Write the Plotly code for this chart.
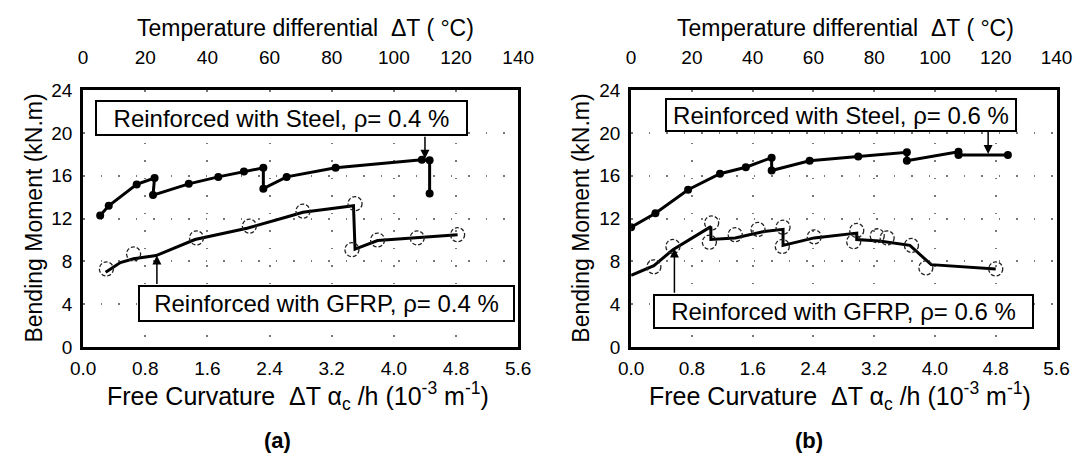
import plotly.graph_objects as go

# ---------------- data ----------------
# Panel (a): rho = 0.4 %
a_steel_x = [0.22, 0.33, 0.69, 0.92, 0.90, 1.36, 1.74, 2.07, 2.32, 2.32, 2.62, 3.25, 4.36, 4.46, 4.46]
a_steel_m = [12.3, 13.2, 15.2, 15.8, 14.2, 15.25, 15.9, 16.4, 16.75, 14.8, 15.9, 16.75, 17.5, 17.45, 14.35]
a_gfrp_x = [0.29, 0.48, 0.65, 0.94, 1.44, 2.11, 2.62, 2.83, 3.48, 3.50, 3.79, 4.30, 4.82]
a_gfrp_m = [7.0, 7.9, 8.25, 8.55, 10.05, 11.1, 12.15, 12.6, 13.2, 9.15, 9.95, 10.2, 10.5]
a_circ_x = [0.30, 0.65, 1.46, 2.14, 2.83, 3.50, 3.46, 3.79, 4.30, 4.82]
a_circ_m = [7.3, 8.7, 10.2, 11.3, 12.7, 13.4, 9.1, 10.0, 10.2, 10.5]

# Panel (b): rho = 0.6 %
b_steel_x = [0.0, 0.32, 0.75, 1.17, 1.51, 1.85, 1.85, 2.35, 2.99, 3.63, 3.63, 4.31, 4.31, 4.96]
b_steel_m = [11.2, 12.5, 14.7, 16.2, 16.8, 17.7, 16.5, 17.4, 17.8, 18.2, 17.4, 18.25, 17.95, 17.95]
b_gfrp_x = [0.0, 0.30, 0.55, 1.05, 1.05, 1.37, 1.75, 2.00, 2.00, 2.41, 2.97, 2.97, 3.27, 3.67, 3.95, 4.80]
b_gfrp_m = [6.7, 7.6, 9.1, 11.25, 10.05, 10.2, 10.8, 11.0, 9.5, 10.2, 10.65, 10.05, 9.9, 9.5, 7.7, 7.3]
b_circ_x = [0.30, 0.55, 1.06, 1.03, 1.37, 1.67, 2.00, 1.99, 2.41, 2.97, 2.93, 3.24, 3.37, 3.69, 3.88, 4.80]
b_circ_m = [7.5, 9.4, 11.6, 9.8, 10.5, 11.0, 11.2, 9.4, 10.3, 10.9, 9.85, 10.4, 10.2, 9.5, 7.4, 7.3]

curv_ticks = [0.0, 0.8, 1.6, 2.4, 3.2, 4.0, 4.8, 5.6]
temp_ticks = [0, 20, 40, 60, 80, 100, 120, 140]
moment_ticks = [0, 4, 8, 12, 16, 20, 24]

label_a_steel = "Reinforced with Steel, ρ= 0.4 %"
label_a_gfrp = "Reinforced with GFRP, ρ= 0.4 %"
label_b_steel = "Reinforced with Steel, ρ= 0.6 %"
label_b_gfrp = "Reinforced with GFRP, ρ= 0.6 %"

top_title = "Temperature differential  ΔT ( °C)"
x_title = "Free Curvature  ΔT α<sub>c</sub> /h (10<sup>-3</sup> m<sup>-1</sup>)"
y_title = "Bending Moment (kN.m)"

# ---------------- figure ----------------
W, H = 1091, 465
FONT = "Liberation Sans, Arial, sans-serif"

def px_x(p):
    return p / W

def px_y(p):
    return 1 - p / H

fig = go.Figure()

line_style = dict(color="black", width=3)
for xs, ms, xa, ya in [(a_steel_x, a_steel_m, "x", "y"), (b_steel_x, b_steel_m, "x2", "y2")]:
    fig.add_trace(go.Scatter(x=xs, y=ms, xaxis=xa, yaxis=ya, mode="lines+markers",
                             line=line_style, marker=dict(size=8, color="black", symbol="circle"),
                             showlegend=False, hoverinfo="skip"))
for xs, ms, xa, ya in [(a_gfrp_x, a_gfrp_m, "x", "y"), (b_gfrp_x, b_gfrp_m, "x2", "y2")]:
    fig.add_trace(go.Scatter(x=xs, y=ms, xaxis=xa, yaxis=ya, mode="lines",
                             line=line_style, showlegend=False, hoverinfo="skip"))

# invisible helpers so the top temperature axes are drawn
for xa, ya in [("x3", "y"), ("x4", "y2")]:
    fig.add_trace(go.Scatter(x=temp_ticks, y=[None] * len(temp_ticks), xaxis=xa, yaxis=ya,
                             mode="lines", showlegend=False, hoverinfo="skip"))

shapes = []
for cx_list, cm_list, xr, yr in [(a_circ_x, a_circ_m, "x", "y"), (b_circ_x, b_circ_m, "x2", "y2")]:
    for cx, cm in zip(cx_list, cm_list):
        shapes.append(dict(type="circle", xref=xr, yref=yr, xsizemode="pixel", ysizemode="pixel",
                           xanchor=cx, yanchor=cm, x0=-7, x1=7, y0=-7, y1=7,
                           line=dict(color="#222", width=1.3, dash="4px,2px")))

dom_y = [px_y(353), px_y(84)]
dom_a = [px_x(72), px_x(519)]
dom_b = [px_x(635), px_x(1072)]

tickfont = dict(family=FONT, size=19, color="black")
grid = dict(showgrid=True, gridcolor="#777", gridwidth=1.5, griddash="1.5px,16px")

def xcurv(domain, anchor):
    return dict(domain=domain, anchor=anchor, range=[0, 5.6], tickvals=curv_ticks,
                ticktext=[f"{v:.1f}" for v in curv_ticks], tickfont=tickfont,
                ticks="outside", ticklen=2, tickcolor="rgba(0,0,0,0)",
                showline=True, linecolor="black", linewidth=2.8, mirror=True,
                zeroline=False, fixedrange=True, **grid)

def ymom(domain, anchor):
    return dict(domain=domain, anchor=anchor, range=[0, 24], tickvals=moment_ticks,
                tickfont=tickfont, ticks="outside", ticklen=4, tickcolor="rgba(0,0,0,0)",
                showline=True, linecolor="black", linewidth=2.8, mirror=True,
                zeroline=False, fixedrange=True, **grid)

def xtemp(overlay, anchor):
    return dict(overlaying=overlay, anchor=anchor, side="top", range=[0, 140],
                tickvals=temp_ticks, tickfont=tickfont, ticks="outside", ticklen=18,
                tickcolor="rgba(0,0,0,0)", showline=False, showgrid=False, zeroline=False,
                fixedrange=True)

annotations = []
# text boxes
for text, cx, cy, bw, bh, xr, yr in [
    (label_a_steel, 2.55, 21.4, 373, 36, "x", "y"),
    (label_a_gfrp, 3.13, 4.1, 377, 37, "x", "y"),
    (label_b_steel, 2.76, 21.7, 352, 34, "x2", "y2"),
    (label_b_gfrp, 2.79, 3.36, 381, 35, "x2", "y2"),
]:
    annotations.append(dict(text=text, x=cx, y=cy, xref=xr, yref=yr, showarrow=False,
                            xanchor="center", yanchor="middle",
                            width=bw - 4, height=bh - 4, borderpad=0, bordercolor="black",
                            borderwidth=2, bgcolor="white", align="center",
                            font=dict(family=FONT, size=24, color="black")))
# arrows from boxes to curves
for tx, ty, ax, ay, xr, yr in [
    (4.40, 17.6, 4.40, 19.8, "x", "y"),
    (0.95, 8.55, 0.95, 5.75, "x", "y"),
    (4.70, 18.05, 4.70, 20.25, "x2", "y2"),
    (0.57, 9.2, 0.57, 4.93, "x2", "y2"),
]:
    annotations.append(dict(text="", x=tx, y=ty, xref=xr, yref=yr, ax=ax, ay=ay,
                            axref=xr, ayref=yr, showarrow=True, arrowhead=2, arrowsize=1.2,
                            arrowwidth=1.5, arrowcolor="black"))

def paper_text(text, xp, yp, font, angle=0):
    return dict(text=text, x=px_x(xp), y=px_y(yp), xref="paper", yref="paper",
                xanchor="center", yanchor="middle", showarrow=False, textangle=angle,
                font=font)

for cxp in [300, 855]:
    annotations.append(paper_text(top_title, cxp, 19, dict(family=FONT, size=23, color="black")))
for cxp in [293, 850]:
    annotations.append(paper_text(x_title, cxp, 404, dict(family=FONT, size=25, color="black")))
for cxp, lab in [(272, "(a)"), (818, "(b)")]:
    annotations.append(paper_text(f"<b>{lab}</b>", cxp, 451, dict(family=FONT, size=22, color="black")))
for cxp in [22, 584]:
    annotations.append(paper_text(y_title, cxp, 218, dict(family=FONT, size=23, color="black"), -90))

fig.update_layout(
    width=W, height=H, margin=dict(l=0, r=0, t=0, b=0),
    paper_bgcolor="white", plot_bgcolor="white", showlegend=False,
    xaxis=xcurv(dom_a, "y"), yaxis=ymom(dom_y, "x"),
    xaxis2=xcurv(dom_b, "y2"), yaxis2=ymom(dom_y, "x2"),
    xaxis3=xtemp("x", "y"), xaxis4=xtemp("x2", "y2"),
    shapes=shapes, annotations=annotations,
)

fig.write_html("out.html")
